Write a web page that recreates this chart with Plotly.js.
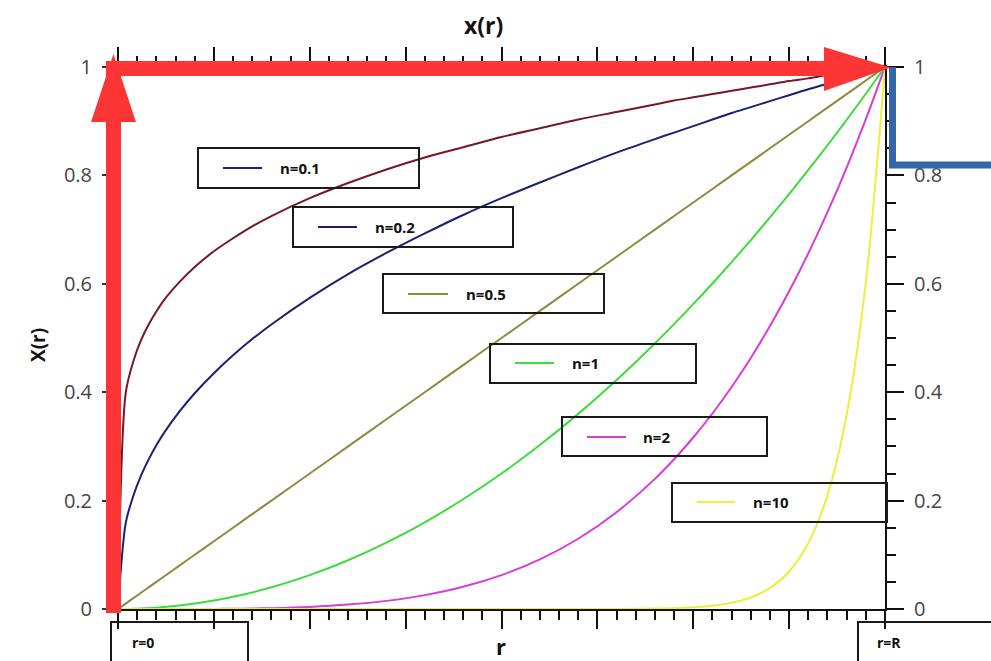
<!DOCTYPE html>
<html>
<head>
<meta charset="utf-8">
<script src="https://cdn.plot.ly/plotly-3.0.1.min.js"></script>
<style>html,body{margin:0;padding:0;background:#fff;}#chart{width:991px;height:661px;}</style>
</head>
<body>
<div id="chart"></div>
<script>
// ---- data ----
var rValues = [0, 0.01, 0.02, 0.03, 0.04, 0.05, 0.06, 0.08, 0.1, 0.125, 0.15, 0.175, 0.2, 0.25, 0.3, 0.35, 0.4, 0.45, 0.5, 0.55, 0.6, 0.65, 0.7, 0.725, 0.75, 0.775, 0.8, 0.825, 0.85, 0.875, 0.9, 0.925, 0.95, 0.975, 1];
var xN01 = [0, 0.398, 0.457, 0.496, 0.525, 0.549, 0.570, 0.603, 0.631, 0.660, 0.684, 0.706, 0.725, 0.758, 0.786, 0.811, 0.833, 0.852, 0.871, 0.887, 0.903, 0.917, 0.931, 0.938, 0.944, 0.950, 0.956, 0.962, 0.968, 0.974, 0.979, 0.985, 0.990, 0.995, 1];
var xN02 = [0, 0.158, 0.209, 0.246, 0.276, 0.302, 0.325, 0.364, 0.398, 0.435, 0.468, 0.498, 0.525, 0.574, 0.618, 0.657, 0.693, 0.727, 0.758, 0.787, 0.815, 0.842, 0.867, 0.879, 0.891, 0.903, 0.915, 0.926, 0.937, 0.948, 0.959, 0.969, 0.980, 0.990, 1];
var xN05 = [0, 0.01, 0.02, 0.03, 0.04, 0.05, 0.06, 0.08, 0.1, 0.125, 0.15, 0.175, 0.2, 0.25, 0.3, 0.35, 0.4, 0.45, 0.5, 0.55, 0.6, 0.65, 0.7, 0.725, 0.75, 0.775, 0.8, 0.825, 0.85, 0.875, 0.9, 0.925, 0.95, 0.975, 1];
var xN1  = [0, 0.0001, 0.0004, 0.0009, 0.0016, 0.0025, 0.0036, 0.0064, 0.01, 0.0156, 0.0225, 0.0306, 0.04, 0.0625, 0.09, 0.1225, 0.16, 0.2025, 0.25, 0.3025, 0.36, 0.4225, 0.49, 0.5256, 0.5625, 0.6006, 0.64, 0.6806, 0.7225, 0.7656, 0.81, 0.8556, 0.9025, 0.9506, 1];
var xN2  = [0, 0, 0, 0, 0, 0, 0, 0, 0.0001, 0.0002, 0.0005, 0.0009, 0.0016, 0.0039, 0.0081, 0.015, 0.0256, 0.041, 0.0625, 0.0915, 0.1296, 0.1785, 0.2401, 0.2763, 0.3164, 0.3607, 0.4096, 0.4632, 0.522, 0.5862, 0.6561, 0.7321, 0.8145, 0.9037, 1];
var xN10 = [0, 0, 0, 0, 0, 0, 0, 0, 0, 0, 0, 0, 0, 0, 0, 0, 0, 0, 0, 0, 0, 0.0002, 0.0008, 0.0016, 0.0032, 0.0061, 0.0115, 0.0213, 0.0388, 0.0692, 0.1216, 0.2101, 0.3585, 0.6027, 1];
var seriesLabels = ["n=0.1", "n=0.2", "n=0.5", "n=1", "n=2", "n=10"];
var seriesData = [xN01, xN02, xN05, xN1, xN2, xN10];
var yTickVals = [0, 0.2, 0.4, 0.6, 0.8, 1];
var yTickText = ["0", "0.2", "0.4", "0.6", "0.8", "1"];
var endLabels = ["r=0", "r=R"];

// ---- styles ----
var curveColors = ["#74182a", "#1d1f72", "#8c8a3c", "#3cdc3c", "#d83cd8", "#eeee3c"];
var sampleColors = ["#1d1f72", "#1d1f72", "#8c8a3c", "#3cdc3c", "#d83cd8", "#eeee3c"];

var L = 118, R = 885, T = 67, B = 609, W = 991, H = 661;
function px(x){ return (x - L) / (R - L); }
function py(y){ return (B - y) / (B - T); }
function P(x, y){ return px(x).toFixed(5) + "," + py(y).toFixed(5); }

var traces = seriesData.map(function(s, i){
  return {x: rValues, y: s, type: "scatter", mode: "lines", name: seriesLabels[i],
          line: {color: curveColors[i], width: 2, shape: "spline", smoothing: 0.8},
          hoverinfo: "skip", showlegend: false};
});
traces.push({x: [null], y: [null], xaxis: "x2", yaxis: "y2", type: "scatter", mode: "lines", showlegend: false, hoverinfo: "skip"});

var boxes = [
  {x0:198, x1:419, y0:148, y1:188, lx0:223, lx1:262, ly:168, tx:280},
  {x0:293, x1:513, y0:207, y1:247, lx0:318, lx1:357, ly:227, tx:375},
  {x0:383, x1:604, y0:274, y1:313, lx0:408, lx1:448, ly:294, tx:466},
  {x0:490, x1:696, y0:344, y1:383, lx0:515, lx1:554, ly:363, tx:572},
  {x0:562, x1:767, y0:417, y1:456, lx0:587, lx1:626, ly:437, tx:643},
  {x0:672, x1:887, y0:483, y1:522, lx0:697, lx1:735, ly:502, tx:753}
];

var shapes = [], annotations = [];
boxes.forEach(function(b, i){
  shapes.push({type:"rect", xref:"paper", yref:"paper", x0:px(b.x0), x1:px(b.x1), y0:py(b.y1), y1:py(b.y0),
               line:{color:"#1a1a1a", width:2}, fillcolor:"rgba(0,0,0,0)", layer:"above"});
  shapes.push({type:"line", xref:"paper", yref:"paper", x0:px(b.lx0), x1:px(b.lx1), y0:py(b.ly), y1:py(b.ly),
               line:{color:sampleColors[i], width:2}, layer:"above"});
  annotations.push({xref:"paper", yref:"paper", x:px(b.tx - 2), y:py(b.ly), xanchor:"left", yanchor:"middle",
                    text:"<b>" + seriesLabels[i] + "</b>", showarrow:false,
                    font:{family:"Open Sans", size:15, color:"#111"}});
});

// end boxes r=0 and r=R
var endBoxes = [{x0:111, x1:248, tx:130}, {x0:858, x1:1000, tx:875}];
endBoxes.forEach(function(b, i){
  shapes.push({type:"rect", xref:"paper", yref:"paper", x0:px(b.x0), x1:px(b.x1), y0:py(670), y1:py(622),
               line:{color:"#1a1a1a", width:2}, fillcolor:"rgba(0,0,0,0)", layer:"above"});
  annotations.push({xref:"paper", yref:"paper", x:px(b.tx), y:py(642), xanchor:"left", yanchor:"middle",
                    text:"<b>" + endLabels[i] + "</b>", showarrow:false,
                    font:{family:"Open Sans", size:14, color:"#111"}});
});

// red arrows
shapes.push({type:"path", xref:"paper", yref:"paper", layer:"above", fillcolor:"#fe3535", line:{width:0},
  path:"M" + P(106,613) + " L" + P(106,122) + " L" + P(91,122) + " L" + P(113.5,54) + " L" + P(136,122) + " L" + P(121,122) + " L" + P(121,613) + " Z"});
shapes.push({type:"path", xref:"paper", yref:"paper", layer:"above", fillcolor:"#fe3535", line:{width:0},
  path:"M" + P(106,61) + " L" + P(824,61) + " L" + P(824,47) + " L" + P(891,67.5) + " L" + P(824,91) + " L" + P(824,76) + " L" + P(106,76) + " Z"});
// blue line
shapes.push({type:"path", xref:"paper", yref:"paper", layer:"above", line:{color:"#3566a9", width:7},
  path:"M" + P(892.5,67) + " L" + P(892.5,165) + " L" + P(1000,165)});

// titles
annotations.push({xref:"paper", yref:"paper", x:px(483), y:py(25), text:"<b>x(r)</b>", showarrow:false,
  xanchor:"center", yanchor:"middle", font:{family:"Open Sans", size:23, color:"#111"}});
annotations.push({xref:"paper", yref:"paper", x:px(38), y:py(345), text:"<b>X(r)</b>", showarrow:false, textangle:-90,
  xanchor:"center", yanchor:"middle", font:{family:"Open Sans", size:19, color:"#111"}});
annotations.push({xref:"paper", yref:"paper", x:px(501), y:py(646), text:"<b>r</b>", showarrow:false,
  xanchor:"center", yanchor:"middle", font:{family:"Open Sans", size:22, color:"#111"}});

var xBase = {range:[0,1], showgrid:false, zeroline:false, showline:true, linecolor:"#111", linewidth:2,
  ticks:"outside", tick0:0, dtick:0.125, ticklen:18, tickwidth:2, tickcolor:"#111", showticklabels:false,
  minor:{ticks:"outside", tick0:0, dtick:0.025, ticklen:9, tickwidth:2, tickcolor:"#111", showgrid:false},
  fixedrange:true};

var layout = {
  width: W, height: H,
  margin: {l: L, r: W - R, t: T, b: H - B, pad: 0},
  paper_bgcolor: "#fff", plot_bgcolor: "#fff",
  showlegend: false,
  xaxis: Object.assign({}, xBase, {side:"bottom"}),
  xaxis2: Object.assign({}, xBase, {side:"top", overlaying:"x", anchor:"y2"}),
  yaxis: {range:[0,1], showgrid:false, zeroline:false, showline:true, linecolor:"#111", linewidth:2,
    ticks:"outside", tickvals:yTickVals, ticktext:yTickText, ticklen:14, tickwidth:2, tickcolor:"#333",
    ticklabelstandoff:6, tickfont:{family:"Open Sans", size:20, color:"#444"}, fixedrange:true},
  yaxis2: {range:[0,1], overlaying:"y", side:"right", anchor:"x", showgrid:false, zeroline:false, showline:true,
    linecolor:"#111", linewidth:2, ticks:"outside", tickvals:yTickVals, ticktext:yTickText, ticklen:17, tickwidth:2,
    tickcolor:"#111", ticklabelstandoff:6, tickfont:{family:"Open Sans", size:20, color:"#444"},
    minor:{ticks:"outside", tick0:0, dtick:0.05, ticklen:9, tickwidth:2, tickcolor:"#111", showgrid:false},
    fixedrange:true},
  shapes: shapes,
  annotations: annotations
};

Plotly.newPlot("chart", traces, layout, {staticPlot:true, displayModeBar:false});
</script>
</body>
</html>
